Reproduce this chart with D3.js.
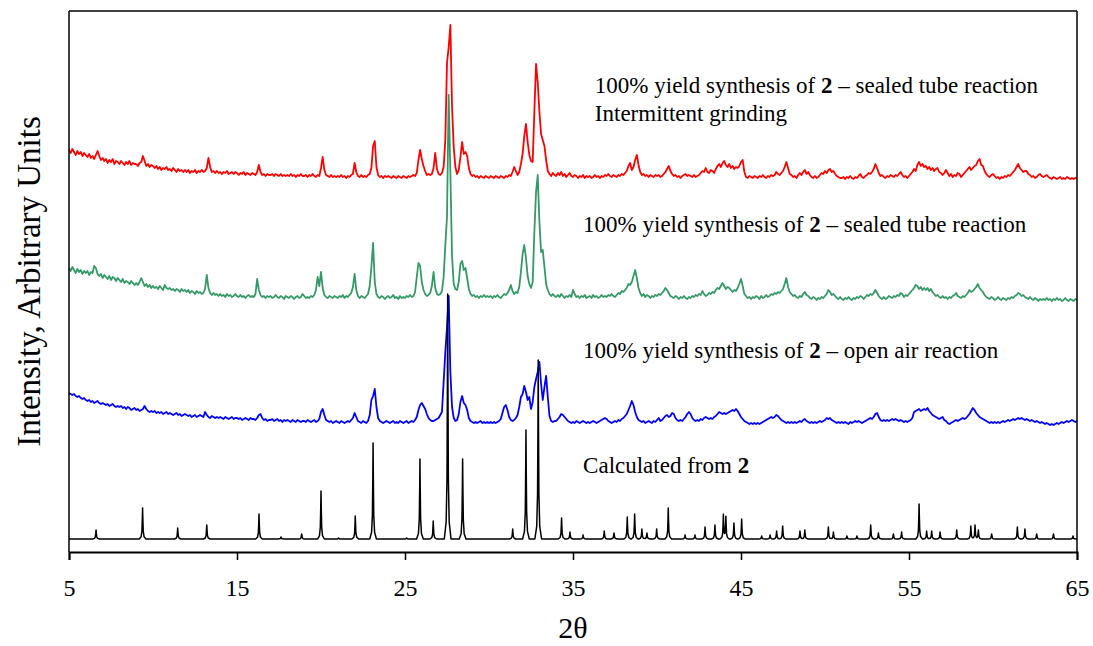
<!DOCTYPE html>
<html>
<head>
<meta charset="utf-8">
<script src="https://cdn.jsdelivr.net/npm/d3@7"></script>
<style>
  body { margin: 0; background: #fff; }
  text { font-family: "Liberation Serif", "Times New Roman", serif; fill: #000; }
</style>
</head>
<body>
<svg id="chart" width="1093" height="646"></svg>
<script>
// Powder X-ray diffraction patterns, intensities stacked in arbitrary units.
// Measured patterns are sampled every 0.1 deg 2theta from 5.0 to 65.0.
const scanStart = 5.0;
const scanStep = 0.1;
const xTickValues = [5, 15, 25, 35, 45, 55, 65];

// Sealed tube reaction, intermittent grinding (top trace)
const sealedGroundValues = [
  402,399,403,400,397,401,398,400,396,399,
  397,395,398,394,396,393,397,401,396,392,
  394,391,393,389,392,390,393,388,391,390,
  388,391,389,387,390,388,391,387,389,388,
  388,386,389,390,396,391,386,388,385,387,
  386,384,386,383,385,382,384,383,385,382,
  383,381,384,382,380,383,381,382,380,382,
  380,382,379,381,380,382,379,381,380,382,
  380,381,384,394,385,380,381,379,381,379,
  380,378,380,379,381,378,379,380,378,380,
  379,377,379,378,380,377,379,378,377,379,
  378,377,380,387,380,377,378,376,378,377,
  377,378,376,378,377,376,378,376,377,376,
  377,376,378,376,377,375,377,376,378,376,
  376,377,375,377,376,378,376,375,377,376,
  384,395,382,377,376,375,377,375,376,375,
  376,375,377,375,376,374,376,375,377,378,
  389,380,376,375,377,375,376,375,377,378,
  384,406,411,385,377,375,376,374,376,375,
  376,375,374,376,375,374,376,375,374,376,
  375,374,376,375,376,377,376,379,392,402,
  393,386,381,377,378,377,378,384,399,383,
  378,377,379,385,412,489,505,527,445,405,
  385,378,382,395,410,398,400,396,384,378,
  376,377,375,376,374,376,375,374,376,375,
  374,376,375,374,376,375,374,376,375,374,
  376,375,377,376,380,385,381,377,380,388,
  398,416,428,410,397,391,390,440,488,470,
  440,418,412,406,392,381,378,376,379,377,
  376,379,377,380,376,378,375,377,379,376,
  375,377,376,374,376,375,377,374,376,375,
  376,374,375,377,375,376,374,376,375,377,
  376,378,376,375,377,376,375,377,376,378,
  377,379,381,386,389,382,385,392,397,387,
  380,377,378,376,377,375,377,376,375,377,
  376,377,375,376,378,380,383,386,381,378,
  376,377,375,376,374,376,377,378,376,377,
  376,375,377,375,376,377,379,381,380,384,
  380,379,382,381,379,383,386,388,385,389,
  391,387,385,388,384,386,383,385,384,386,
  390,392,380,375,374,376,375,374,376,375,
  374,376,375,377,375,374,376,375,377,376,
  377,380,378,377,379,381,385,390,384,378,
  377,375,376,374,377,379,377,380,382,378,
  380,377,375,374,376,374,375,377,379,378,
  381,379,382,383,380,381,378,376,375,374,
  374,375,373,375,374,376,374,373,375,374,
  376,378,375,374,376,377,379,378,380,383,
  388,384,379,376,377,375,374,376,375,377,
  376,375,377,376,378,380,377,375,376,374,
  376,378,380,383,381,387,390,386,388,385,
  386,383,385,382,384,381,383,384,380,379,
  377,379,382,379,376,378,375,377,376,379,
  378,375,377,379,381,383,385,382,384,386,
  387,391,393,387,386,381,378,376,375,377,
  378,376,374,375,373,375,374,376,375,377,
  376,378,380,382,385,388,384,382,380,381,
  381,378,377,375,376,374,375,377,378,376,
  375,376,377,375,374,373,375,374,373,374,
  375,373,374,373,375,374,373,374,373,374,
  374
];

// Sealed tube reaction (second trace)
const sealedValues = [
  284,281,285,282,279,283,280,282,278,281,
  279,281,277,280,279,286,284,278,276,278,
  274,277,275,273,276,272,275,274,271,274,
  272,270,273,269,271,270,268,271,269,267,
  269,267,270,274,270,266,268,265,267,264,
  266,264,265,263,266,264,262,267,264,263,
  264,262,263,261,263,262,260,263,261,262,
  260,262,259,261,260,258,261,259,260,258,
  259,263,277,264,259,257,259,257,258,256,
  258,256,257,255,258,256,257,255,256,258,
  256,255,257,255,256,254,256,257,255,256,
  255,258,273,262,257,255,256,254,256,255,
  256,254,255,257,255,254,256,255,253,256,
  255,254,256,255,253,255,256,254,255,258,
  256,254,255,254,256,255,257,262,275,266,
  280,264,257,255,254,256,255,254,256,255,
  254,256,255,257,254,256,255,257,259,265,
  278,262,256,254,256,255,254,256,258,266,
  285,309,270,258,255,254,256,255,253,255,
  256,254,255,257,254,255,253,256,254,255,
  254,256,255,257,255,256,260,275,289,286,
  270,262,258,256,257,259,266,280,264,258,
  257,258,261,275,307,335,457,380,296,268,
  263,262,270,288,291,282,284,274,263,258,
  256,257,255,256,254,256,255,257,255,256,
  255,256,254,256,255,257,255,254,256,258,
  257,259,262,267,261,258,260,259,265,280,
  298,307,294,276,268,264,270,320,360,377,
  330,300,302,285,268,262,258,256,258,256,
  255,257,255,258,256,254,256,255,257,255,
  262,258,255,256,254,256,255,257,254,255,
  256,254,257,255,256,254,255,257,255,256,
  255,257,256,258,256,255,257,259,258,261,
  260,262,264,268,267,270,276,282,274,264,
  259,256,258,255,257,256,254,256,255,257,
  256,258,257,259,261,264,262,259,256,255,
  254,256,255,253,255,254,256,254,253,255,
  254,256,255,257,256,258,257,261,258,256,
  257,259,258,260,259,262,264,263,266,269,
  266,263,265,264,262,260,262,261,264,268,
  273,266,258,256,254,255,253,255,254,256,
  255,253,256,254,255,257,255,256,258,257,
  259,258,260,259,261,263,268,274,265,260,
  258,256,257,255,254,256,255,258,260,257,
  256,254,253,255,254,252,254,253,255,254,
  256,258,262,260,257,258,256,254,253,255,
  253,252,254,253,255,253,252,254,253,255,
  254,256,255,253,255,257,256,258,257,259,
  262,259,256,254,253,255,253,254,256,255,
  254,256,255,257,256,259,258,255,257,256,
  258,260,262,264,267,266,263,265,262,264,
  262,264,261,263,260,258,256,257,255,254,
  256,254,255,253,255,254,256,257,259,256,
  255,254,256,255,257,259,262,260,261,263,
  265,268,264,262,260,257,255,254,253,255,
  254,252,253,255,253,252,254,253,252,254,
  253,255,254,256,257,259,258,256,257,255,
  254,253,255,253,252,254,253,251,253,252,
  253,252,254,252,253,251,253,252,254,252,
  253,251,252,254,252,251,253,252,251,253,
  252
];

// Open air reaction (third trace)
const openAirValues = [
  159,158,157,158,156,155,156,154,153,154,
  152,151,152,150,151,149,150,151,149,148,
  149,148,147,148,146,147,148,146,145,146,
  145,146,144,145,143,145,144,142,143,144,
  142,143,141,142,143,146,143,141,140,141,
  140,141,139,140,139,140,138,139,140,138,
  139,138,137,138,139,137,138,136,137,138,
  137,136,137,135,136,137,135,136,137,136,
  135,140,137,135,134,136,135,134,135,134,
  135,134,133,135,134,133,134,135,133,134,
  134,133,134,132,133,134,133,132,134,133,
  133,132,134,137,138,134,132,133,131,132,
  132,133,131,132,133,131,132,130,132,131,
  132,131,130,132,131,130,132,131,130,131,
  131,130,132,131,130,131,132,130,131,133,
  140,143,137,132,131,130,131,129,130,131,
  130,129,131,130,129,130,131,130,132,134,
  139,135,131,130,129,131,130,129,131,137,
  152,156,163,145,134,131,130,129,130,131,
  130,129,130,131,129,130,129,131,130,129,
  130,131,129,130,131,130,132,135,142,147,
  149,146,143,138,134,132,131,131,132,133,
  134,137,140,170,200,225,256,180,145,134,
  131,132,138,150,156,149,147,142,134,131,
  130,129,130,129,130,131,129,130,129,130,
  129,130,129,130,129,130,131,133,139,145,
  147,142,135,132,131,132,134,137,145,155,
  158,166,160,152,155,143,150,165,173,180,
  190,168,152,165,176,155,136,131,130,131,
  131,133,135,138,137,135,133,131,130,129,
  130,129,131,130,129,130,131,130,129,130,
  129,130,131,130,129,130,131,132,133,134,
  133,131,130,129,130,131,130,132,131,133,
  134,136,138,142,146,151,147,140,135,132,
  131,130,131,129,130,131,130,129,131,130,
  132,134,131,132,134,136,137,135,136,139,
  138,134,132,131,132,131,133,135,138,140,
  138,134,132,131,132,131,133,132,134,135,
  134,133,134,133,135,136,138,140,139,138,
  139,138,139,140,141,142,141,143,141,138,
  135,133,131,130,129,128,129,128,129,128,
  129,128,129,130,131,132,133,134,135,134,
  135,137,136,134,132,131,130,129,130,129,
  130,129,130,129,130,131,130,132,133,131,
  130,129,130,129,130,129,130,131,130,131,
  132,134,133,134,132,131,130,129,130,129,
  130,129,130,129,128,130,129,130,131,130,
  131,130,129,130,131,132,133,134,133,135,
  138,139,135,132,131,132,131,132,131,132,
  133,132,133,132,131,132,131,130,131,130,
  131,132,134,140,141,142,143,141,142,143,
  142,144,141,139,137,136,135,134,133,134,
  135,132,131,129,128,129,130,131,132,131,
  132,133,134,133,134,136,138,141,144,142,
  139,137,135,134,133,132,131,130,129,130,
  129,130,129,130,129,130,131,130,131,132,
  131,132,133,132,133,134,133,134,133,132,
  133,132,131,132,131,130,131,130,129,130,
  129,128,129,128,127,128,127,128,129,128,
  129,130,129,130,131,130,131,132,131,130,
  131
];

// Pattern calculated from the crystal structure: baseline and reflections
const calcBaseline = 13;
const calcPositions = [
  6.61, 9.38, 11.47, 13.2, 16.31, 17.62, 18.85, 20.0, 21.05, 22.04,
  23.1, 25.1, 25.89, 26.68, 27.54, 28.43, 31.41, 32.2, 32.93, 34.32,
  34.82, 35.6, 36.86, 37.44, 38.23, 38.67, 39.1, 39.4, 39.98, 40.67,
  41.67, 42.26, 42.86, 43.45, 43.95, 44.1, 44.58, 45.04, 46.23, 46.73,
  47.12, 47.48, 48.51, 48.8, 50.2, 50.5, 51.3, 51.9, 52.72, 53.18,
  54.07, 54.56, 55.6, 56.05, 56.35, 56.85, 57.84, 58.68, 58.93, 59.13,
  59.92, 61.45, 61.9, 62.6, 63.6, 64.76
];
const calcHeights = [
  9, 31, 11, 14, 25, 2, 5, 48, 1, 23,
  96, 1, 80, 18, 245, 80, 10, 109, 179, 21,
  7, 4, 8, 6, 22, 25, 10, 6, 10, 31,
  4, 4, 12, 14, 24, 22, 16, 20, 3, 4,
  8, 13, 8, 9, 12, 7, 3, 3, 14, 6,
  5, 7, 35, 8, 8, 7, 9, 13, 14, 9,
  5, 12, 10, 5, 5, 3
];
// Reflection profile: offsets in deg 2theta and fraction of the peak height
const profileOffsets = [-0.2, -0.09, -0.04, -0.015, 0, 0.015, 0.04, 0.09, 0.2];
const profileFractions = [0, 0.07, 0.25, 0.65, 1, 0.65, 0.25, 0.07, 0];

const seriesNames = ["sealedGround", "sealed", "openAir", "calculated"];
const seriesColors = ["#ff0000", "#339966", "#0000ff", "#000000"];

const labelPrefix = "100% yield synthesis of ";
const labelCompound = "2";
const traceLabels = [
  { before: labelPrefix, bold: labelCompound, after: " \u2013 sealed tube reaction", second: "Intermittent grinding", at: [36.3, 459] },
  { before: labelPrefix, bold: labelCompound, after: " \u2013 sealed tube reaction", second: null, at: [35.6, 320] },
  { before: labelPrefix, bold: labelCompound, after: " \u2013 open air reaction", second: null, at: [35.6, 194] },
  { before: "Calculated from ", bold: labelCompound, after: "", second: null, at: [35.6, 79] }
];

const svg = d3.select("#chart");
const margin = { left: 69, right: 16, top: 11, bottom: 94 };
const W = 1093, H = 646;
const labelSize = 23;

const x = d3.scaleLinear().domain([5, 65]).range([margin.left, W - margin.right]);
const y = d3.scaleLinear().domain([0, 541]).range([H - margin.bottom, margin.top]);

// Measured series as [2theta, intensity] pairs
const toPairs = vals => vals.map((v, i) => [+(scanStart + i * scanStep).toFixed(2), v]);
const measured = [sealedGroundValues, sealedValues, openAirValues].map(toPairs);

// Calculated pattern: sum of reflection profiles over the baseline
function profileAt(t) {
  let s = calcBaseline;
  const lo = profileOffsets[0], hi = profileOffsets[profileOffsets.length - 1];
  calcPositions.forEach((p, i) => {
    const d = t - p;
    if (d <= lo || d >= hi) return;
    for (let k = 0; k < profileOffsets.length - 1; k++) {
      const a = profileOffsets[k], b = profileOffsets[k + 1];
      if (d >= a && d <= b) {
        const f = profileFractions[k] + (profileFractions[k + 1] - profileFractions[k]) * (d - a) / (b - a);
        s += calcHeights[i] * f;
        break;
      }
    }
  });
  return s;
}
let calcGrid = [5, 65];
calcPositions.forEach(p => profileOffsets.forEach(o => {
  const t = p + o;
  if (t > 5 && t < 65) calcGrid.push(+t.toFixed(4));
}));
calcGrid = Array.from(new Set(calcGrid)).sort((a, b) => a - b);
const calculated = calcGrid.map(t => [t, profileAt(t)]);

const allSeries = measured.concat([calculated]);

const line = d3.line().x(d => x(d[0])).y(d => y(d[1]));

const plot = svg.append("g");
allSeries.forEach((data, i) => {
  plot.append("path")
    .datum(data)
    .attr("class", "trace " + seriesNames[i])
    .attr("fill", "none")
    .attr("stroke", seriesColors[i])
    .attr("stroke-width", i === 3 ? 1.5 : 1.8)
    .attr("stroke-linejoin", "round")
    .attr("d", line);
});

// Frame lines: top, left and right
const frame = svg.append("g").attr("stroke", "#000").attr("stroke-width", 1.5);
frame.append("line").attr("x1", x(5)).attr("x2", x(65)).attr("y1", y(541)).attr("y2", y(541));
frame.append("line").attr("x1", x(65)).attr("x2", x(65)).attr("y1", y(541)).attr("y2", y(0));
frame.append("line").attr("x1", x(5)).attr("x2", x(5)).attr("y1", y(541)).attr("y2", y(0));

// Bottom axis
const xAxis = d3.axisBottom(x).tickValues(xTickValues).tickSize(8).tickPadding(19).tickFormat(d3.format("d"));
const gx = svg.append("g").attr("transform", `translate(0,${y(0)})`).call(xAxis);
gx.select(".domain").attr("stroke", "#000").attr("stroke-width", 2);
gx.selectAll(".tick line").attr("stroke", "#000").attr("stroke-width", 1.5);
gx.selectAll(".tick text")
  .style("font-family", '"Liberation Serif", "Times New Roman", serif')
  .style("font-size", "24px").attr("fill", "#000");

// Axis titles
svg.append("text")
  .attr("x", x(35)).attr("y", 638)
  .attr("text-anchor", "middle")
  .style("font-size", "30px")
  .text("2\u03b8");

svg.append("text")
  .attr("transform", `translate(40,${(y(0) + y(541)) / 2}) rotate(-90)`)
  .attr("text-anchor", "middle")
  .style("font-size", "33px")
  .text("Intensity, Arbitrary Units");

// Trace labels
traceLabels.forEach(lb => {
  const t = svg.append("text")
    .attr("x", x(lb.at[0])).attr("y", y(lb.at[1]))
    .style("font-size", labelSize + "px");
  t.append("tspan").text(lb.before);
  t.append("tspan").style("font-weight", "bold").text(lb.bold);
  t.append("tspan").text(lb.after);
  if (lb.second) {
    svg.append("text")
      .attr("x", x(lb.at[0])).attr("y", y(lb.at[1]) + 28)
      .style("font-size", labelSize + "px")
      .text(lb.second);
  }
});
</script>
</body>
</html>
